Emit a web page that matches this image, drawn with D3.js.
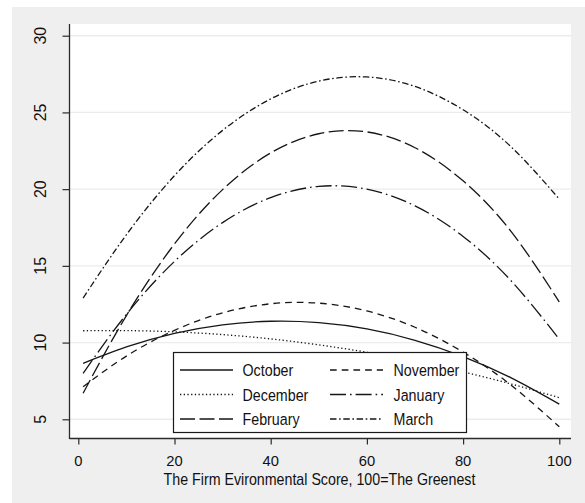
<!DOCTYPE html>
<html>
<head>
<meta charset="utf-8">
<script src="https://cdn.jsdelivr.net/npm/d3@7"></script>
<style>
  html, body { margin: 0; padding: 0; background: #ffffff; }
  svg { display: block; }
  text { font-family: "Liberation Sans", Arial, Helvetica, sans-serif; fill: #111; }
</style>
</head>
<body>
<svg id="chart" width="585" height="503"></svg>
<script>
// Environmental score grid shared by every fitted curve
const scores = [1, 10, 20, 30, 40, 50, 60, 70, 80, 90, 100];

// Fitted monthly values at each score
const october  = [8.65, 9.72, 10.60, 11.16, 11.39, 11.30, 10.89, 10.15, 9.09, 7.70, 5.99];
const november = [7.12, 9.12, 10.80, 11.94, 12.53, 12.57, 12.06, 11.00, 9.38, 7.22, 4.51];
const december = [10.77, 10.78, 10.70, 10.52, 10.24, 9.85, 9.37, 8.78, 8.09, 7.30, 6.41];
const january  = [8.00, 11.84, 15.29, 17.82, 19.45, 20.18, 20.00, 18.91, 16.92, 14.02, 10.22];
const february = [6.70, 11.76, 16.43, 19.97, 22.36, 23.61, 23.73, 22.70, 20.54, 17.23, 12.65];
const march    = [12.90, 17.03, 20.88, 23.83, 25.88, 27.04, 27.31, 26.69, 25.17, 22.75, 19.35];

const monthNames = ["October", "November", "December", "January", "February", "March"];
const xTicks = [0, 20, 40, 60, 80, 100];
const yTicks = [5, 10, 15, 20, 25, 30];
const xTitle = "The Firm Evironmental Score, 100=The Greenest";

const seriesValues = [october, november, december, january, february, march];
const dashes = [null, "6.7,5", "1.3,2.4", "16,4,1.6,4", "15,4.5", "6.5,2.6,1.6,2.6"];

const svg = d3.select("#chart");

// Outer panel and plot region
const plot = { left: 70, right: 571, top: 24, bottom: 439 };
svg.append("rect").attr("x", 12).attr("y", 7).attr("width", 573).attr("height", 496)
  .attr("fill", "#efefef");
svg.append("rect").attr("x", plot.left).attr("y", plot.top)
  .attr("width", plot.right - plot.left).attr("height", plot.bottom - plot.top)
  .attr("fill", "#ffffff");

const x = d3.scaleLinear().domain([0, 100]).range([78.3, 559.3]);
const y = d3.scaleLinear().domain([5, 30]).range([419.3, 35.7]);

// Horizontal gridlines
svg.append("g").selectAll("line").data(yTicks).join("line")
  .attr("x1", plot.left).attr("x2", plot.right)
  .attr("y1", d => y(d)).attr("y2", d => y(d))
  .attr("stroke", "#ececec").attr("stroke-width", 1.4);

// Axes
const yAxis = svg.append("g").attr("transform", `translate(${plot.left - 0.5},0)`)
  .call(d3.axisLeft(y).tickValues(yTicks).tickSize(7).tickFormat(""));
yAxis.select(".domain").attr("d", `M0,${plot.top}V${plot.bottom}`);
const xAxis = svg.append("g").attr("transform", `translate(0,${plot.bottom - 0.5})`)
  .call(d3.axisBottom(x).tickValues(xTicks).tickSize(6).tickFormat(""));
xAxis.select(".domain").attr("d", `M${plot.left - 0.5},0H${plot.right}`);
svg.selectAll(".domain").attr("stroke", "#2b2b2b").attr("stroke-width", 1.3);
svg.selectAll(".tick line").attr("stroke", "#2b2b2b").attr("stroke-width", 1.2);

// Text helper with horizontal glyph scaling
function label(px, py, str, size, sx, anchor, rot) {
  return svg.append("text")
    .attr("transform", `translate(${px},${py})` + (rot ? ` rotate(${rot})` : "") + ` scale(${sx},1)`)
    .attr("text-anchor", anchor)
    .attr("font-size", size)
    .text(str);
}

yTicks.forEach(v => label(46, y(v), String(v), 16, 1.0, "middle", -90));
xTicks.forEach(v => label(x(v), 466, String(v), 15.2, 0.97, "middle"));
label((plot.left + plot.right) / 2 - 1, 484.5, xTitle, 16, 0.89, "middle");

// Fitted curves
const line = d3.line()
  .x((d, i) => x(scores[i]))
  .y(d => y(d))
  .curve(d3.curveNatural);

svg.append("g").attr("fill", "none")
  .selectAll("path").data(seriesValues).join("path")
  .attr("d", d => line(d))
  .attr("stroke", "#161616")
  .attr("stroke-width", 1.3)
  .attr("stroke-dasharray", (d, i) => dashes[i]);

// Legend
const legend = svg.append("g");
legend.append("rect").attr("x", 173.5).attr("y", 352.5).attr("width", 293).attr("height", 80)
  .attr("fill", "#ffffff").attr("stroke", "#1a1a1a").attr("stroke-width", 1.2);
const colSym = [180, 330], colText = [242.5, 393.5], rowY = [370, 394.5, 419];
monthNames.forEach((name, i) => {
  const c = i % 2, r = Math.floor(i / 2);
  legend.append("line")
    .attr("x1", colSym[c]).attr("x2", colSym[c] + 53)
    .attr("y1", rowY[r]).attr("y2", rowY[r])
    .attr("stroke", "#161616").attr("stroke-width", 1.3)
    .attr("stroke-dasharray", dashes[i]);
  label(colText[c], rowY[r] + 6, name, 17, 0.84, "start");
});
</script>
</body>
</html>
